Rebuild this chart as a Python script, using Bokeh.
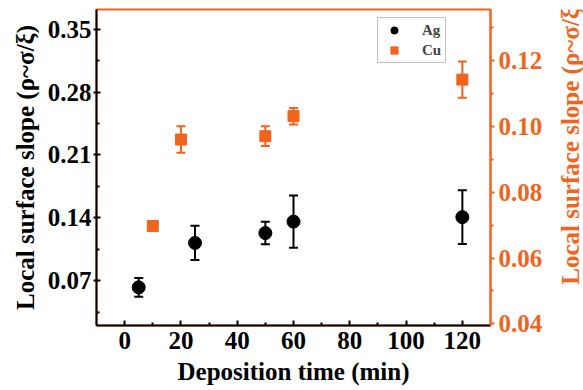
import math
from bokeh.plotting import figure
from bokeh.layouts import row
from bokeh.models import (Range1d, LinearAxis, FixedTicker, Whisker, TeeHead,
                          ColumnDataSource, Legend, LegendItem, PrintfTickFormatter,
                          Label)
from bokeh.embed import file_html
from bokeh.resources import INLINE

# ---- data ----
ag_time = [5, 25, 50, 60, 120]
ag_slope = [0.0625, 0.112, 0.123, 0.1357, 0.1407]
ag_err = [0.0105, 0.019, 0.0125, 0.029, 0.030]

cu_time = [10, 20, 50, 60, 120]
cu_slope = [0.0697, 0.096, 0.097, 0.1031, 0.1142]
cu_err = [0.0008, 0.004, 0.003, 0.0025, 0.0055]

x_ticks = [0, 20, 40, 60, 80, 100, 120]
x_minor = [10, 30, 50, 70, 90, 110]
left_ticks = [0.07, 0.14, 0.21, 0.28, 0.35]
right_ticks = [0.04, 0.06, 0.08, 0.10, 0.12]

ORANGE = "#F0641E"
FONT = "Liberation Serif"
YLABEL = "Local surface slope (ρ~σ/ξ)"

ag_src = ColumnDataSource(dict(x=ag_time, y=ag_slope,
                               lo=[v - e for v, e in zip(ag_slope, ag_err)],
                               hi=[v + e for v, e in zip(ag_slope, ag_err)]))
cu_src = ColumnDataSource(dict(x=cu_time, y=cu_slope,
                               lo=[v - e for v, e in zip(cu_slope, cu_err)],
                               hi=[v + e for v, e in zip(cu_slope, cu_err)]))

p = figure(width=553, height=390, output_backend="svg", toolbar_location=None,
           x_range=Range1d(-10, 130), y_range=Range1d(0.02, 0.372),
           min_border_left=96, min_border_right=63, min_border_top=9,
           min_border_bottom=65)
p.extra_y_ranges = {"right": Range1d(0.0395, 0.1355)}
p.grid.visible = False
p.outline_line_color = ORANGE
p.outline_line_width = 2
p.background_fill_color = "white"
p.border_fill_color = "white"

def style_axis(ax, color, size="25px"):
    ax.axis_line_color = color
    ax.axis_line_width = 2
    ax.major_tick_line_color = color
    ax.minor_tick_line_color = color
    ax.major_tick_line_width = 2
    ax.minor_tick_line_width = 2
    ax.major_label_text_font = FONT
    ax.major_label_text_font_style = "bold"
    ax.major_label_text_font_size = size
    ax.major_label_text_color = color
    ax.axis_label_text_font = FONT
    ax.axis_label_text_font_style = "bold"
    ax.axis_label_text_font_size = size
    ax.axis_label_text_color = color

# bottom
xa = p.xaxis[0]
style_axis(xa, "black")
xa.ticker = FixedTicker(ticks=x_ticks, minor_ticks=x_minor)
xa.axis_label = "Deposition time (min)"
xa.major_tick_in = 5
xa.major_tick_out = 0
xa.minor_tick_in = 3
xa.minor_tick_out = 0
xa.major_label_standoff = 6
xa.axis_label_standoff = 6

# left
ya = p.yaxis[0]
style_axis(ya, "black")
ya.ticker = FixedTicker(ticks=left_ticks,
                        minor_ticks=[0.035, 0.105, 0.175, 0.245, 0.315])
ya.axis_label = YLABEL
ya.major_tick_in = 4
ya.major_tick_out = 3
ya.minor_tick_in = 3
ya.minor_tick_out = 0
ya.major_label_standoff = 2
ya.axis_label_standoff = 6

# right
ra = LinearAxis(y_range_name="right")
style_axis(ra, ORANGE)
ra.ticker = FixedTicker(ticks=right_ticks, minor_ticks=[0.05, 0.07, 0.09, 0.11, 0.13])
ra.formatter = PrintfTickFormatter(format="%.2f")
ra.major_tick_in = 0
ra.major_tick_out = 4
ra.minor_tick_in = 0
ra.minor_tick_out = 3
ra.major_label_standoff = 4
p.add_layout(ra, "right")

# error bars
p.add_layout(Whisker(base="x", lower="lo", upper="hi", source=ag_src,
                     line_color="black", line_width=2,
                     upper_head=TeeHead(size=9, line_color="black", line_width=2),
                     lower_head=TeeHead(size=9, line_color="black", line_width=2)))
p.add_layout(Whisker(base="x", lower="lo", upper="hi", source=cu_src,
                     y_range_name="right",
                     line_color=ORANGE, line_width=2,
                     upper_head=TeeHead(size=9, line_color=ORANGE, line_width=2),
                     lower_head=TeeHead(size=9, line_color=ORANGE, line_width=2)))

ag_r = p.scatter("x", "y", source=ag_src, marker="circle", size=13,
                 fill_color="black", line_color="black")
cu_r = p.scatter("x", "y", source=cu_src, marker="square", size=11,
                 fill_color=ORANGE, line_color=ORANGE, y_range_name="right")

legend = Legend(items=[LegendItem(label="Ag", renderers=[ag_r]),
                       LegendItem(label="Cu", renderers=[cu_r])],
                location=(281, 262))
legend.label_text_font = FONT
legend.label_text_font_style = "bold"
legend.label_text_font_size = "15px"
legend.border_line_color = "#888888"
legend.border_line_width = 1
legend.padding = 3
legend.spacing = 2
legend.glyph_width = 26
legend.glyph_height = 18
legend.label_standoff = 15
legend.label_height = 18
legend.margin = 0
p.add_layout(legend, "center")

# right-hand axis title, reading bottom-to-top like the left one
p2 = figure(width=30, height=390, output_backend="svg", toolbar_location=None,
            x_range=Range1d(0, 1), y_range=Range1d(0, 1), min_border=0,
            x_axis_location=None, y_axis_location=None)
p2.outline_line_color = None
p2.grid.visible = False
p2.background_fill_color = "white"
p2.border_fill_color = "white"
p2.add_layout(Label(x=0.55, y=0.58, text=YLABEL, angle=math.pi / 2,
                    text_align="center", text_baseline="middle",
                    text_font=FONT, text_font_style="bold", text_font_size="25px",
                    text_color=ORANGE))

layout = row(p, p2, spacing=0)
open("out.html", "w").write(file_html(layout, INLINE))
